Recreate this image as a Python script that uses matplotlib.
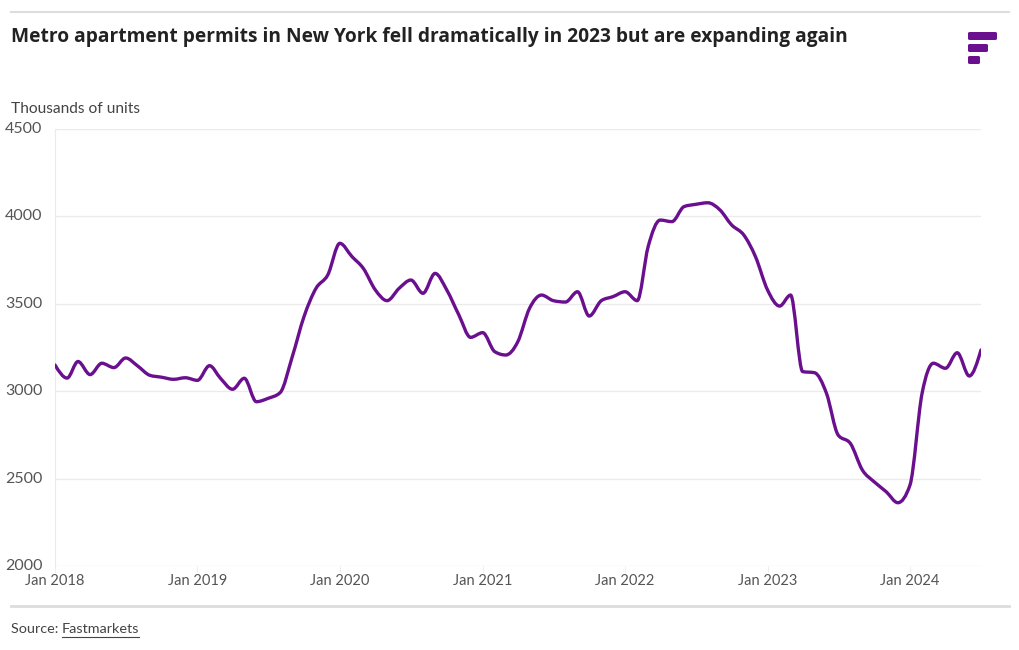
import numpy as np
import matplotlib
matplotlib.use("Agg")
import matplotlib.pyplot as plt
import matplotlib.dates as mdates
from matplotlib.path import Path
from matplotlib.patches import PathPatch, FancyBboxPatch
import datetime as dt

# datos mensuales, ene 2018 - jul 2024 (miles de unidades)
start = dt.date(2018, 1, 1)
permits = [
    3150, 3075, 3170, 3095, 3160, 3135, 3190, 3144, 3091, 3080, 3068, 3077,   # 2018
    3062, 3146, 3074, 3011, 3074, 2940, 2959, 2992, 3197, 3426, 3589, 3665,   # 2019
    3846, 3770, 3703, 3579, 3518, 3589, 3636, 3560, 3674, 3579, 3436, 3308,   # 2020
    3335, 3226, 3207, 3283, 3474, 3550, 3518, 3510, 3569, 3430, 3518, 3541,   # 2021
    3569, 3518, 3827, 3979, 3970, 4056, 4069, 4078, 4037, 3951, 3894, 3770,   # 2022
    3579, 3487, 3550, 3112, 3106, 2988, 2749, 2702, 2549, 2482, 2425, 2362,   # 2023
    2463, 2988, 3160, 3131, 3220, 3087, 3236,                                 # 2024
]
tick_years = [2018, 2019, 2020, 2021, 2022, 2023, 2024]
y_ticks = [2000, 2500, 3000, 3500, 4000, 4500]

title = "Metro apartment permits in New York fell dramatically in 2023 but are expanding again"
y_label = "Thousands of units"

purple = "#6a0f8e"
grey_txt = "#555555"

dates = [dt.date(start.year + (start.month - 1 + i) // 12, (start.month - 1 + i) % 12 + 1, 1)
         for i in range(len(permits))]
x = mdates.date2num(dates)
y = np.array(permits, dtype=float)


# curva suave tipo monotoneX (como d3) -> segmentos Bezier
def monotone_path(x, y):
    n = len(x)
    h = np.diff(x)
    s = np.diff(y) / h
    t = np.zeros(n)
    for i in range(1, n - 1):
        if s[i - 1] * s[i] <= 0:
            t[i] = 0
        else:
            p = (s[i - 1] * h[i] + s[i] * h[i - 1]) / (h[i - 1] + h[i])
            t[i] = np.sign(s[i - 1]) * min(abs(s[i - 1]), abs(s[i]), 0.5 * abs(p)) * 2
    t[0] = (3 * s[0] - t[1]) / 2
    t[-1] = (3 * s[-1] - t[-2]) / 2
    verts = [(x[0], y[0])]
    codes = [Path.MOVETO]
    for i in range(n - 1):
        dx = h[i] / 3
        verts += [(x[i] + dx, y[i] + dx * t[i]), (x[i + 1] - dx, y[i + 1] - dx * t[i + 1]), (x[i + 1], y[i + 1])]
        codes += [Path.CURVE4] * 3
    return Path(verts, codes)


fig = plt.figure(figsize=(10.2, 6.5), dpi=100)
plt.rcParams['font.family'] = ['Lato', 'DejaVu Sans']

ax = fig.add_axes([55 / 1020, 1 - 566 / 650, (981 - 55) / 1020, (566 - 129) / 650])
ax.plot(x, y, alpha=0)  # fija el eje de fechas
ax.add_patch(PathPatch(monotone_path(x, y), facecolor="none", edgecolor=purple,
                       lw=2.4, capstyle="round", joinstyle="round", zorder=3))

ax.set_xlim(x[0], x[-1])
ax.set_ylim(2000, 4500)
ax.set_yticks(y_ticks)
ax.set_yticklabels([str(v) for v in y_ticks])
ticks = mdates.date2num([dt.date(yr, 1, 1) for yr in tick_years])
ax.set_xticks(ticks)
ax.set_xticklabels([f"Jan {yr}" for yr in tick_years])
ax.grid(axis="y", color="#ebebeb", lw=1)
ax.set_axisbelow(True)
for side in ["top", "right", "bottom"]:
    ax.spines[side].set_visible(False)
ax.spines["left"].set_color("#ebebeb")
ax.tick_params(axis="y", length=0, pad=9, labelsize=11.5, labelcolor=grey_txt)
ax.tick_params(axis="x", length=4, color="#eeeeee", pad=2, labelsize=10.5, labelcolor=grey_txt)
for lbl in ax.get_yticklabels():
    lbl.set_verticalalignment("center")

# textos
fig.text(11 / 1020, 1 - 37 / 650, title, fontsize=13.8, fontweight="bold", color="#222222",
         va="center", family=["Open Sans", "DejaVu Sans"])
fig.text(11 / 1020, 1 - 109 / 650, y_label, fontsize=11.2, color="#444444", va="center")
src = fig.text(11 / 1020, 1 - 629 / 650, "Source: ", fontsize=10.4, color="#444444", va="center")
fig.canvas.draw()
bb = src.get_window_extent()
fig.text(bb.x1 / 1020, 1 - 629 / 650, "Fastmarkets", fontsize=10.4, color="#444444", va="center")
bb2 = fig.texts[-1].get_window_extent()
fig.add_artist(plt.Line2D([bb2.x0 / 1020, bb2.x1 / 1020], [1 - 637 / 650] * 2, color="#444444", lw=0.8))

# lineas separadoras
fig.add_artist(plt.Line2D([11 / 1020, 1009 / 1020], [1 - 12 / 650] * 2, color="#dddddd", lw=1.5))
fig.add_artist(plt.Line2D([11 / 1020, 1009 / 1020], [1 - 606 / 650] * 2, color="#dddddd", lw=2))

# logo
for x0, x1, y0, y1 in [(968, 997, 32, 40), (968, 988, 44, 52), (968, 980, 56, 64)]:
    fig.add_artist(FancyBboxPatch((x0 / 1020, 1 - y1 / 650), (x1 - x0) / 1020, (y1 - y0) / 650,
                                  boxstyle="round,pad=0,rounding_size=0.002",
                                  transform=fig.transFigure, facecolor=purple, edgecolor="none"))

fig.savefig("out.png", dpi=100)
